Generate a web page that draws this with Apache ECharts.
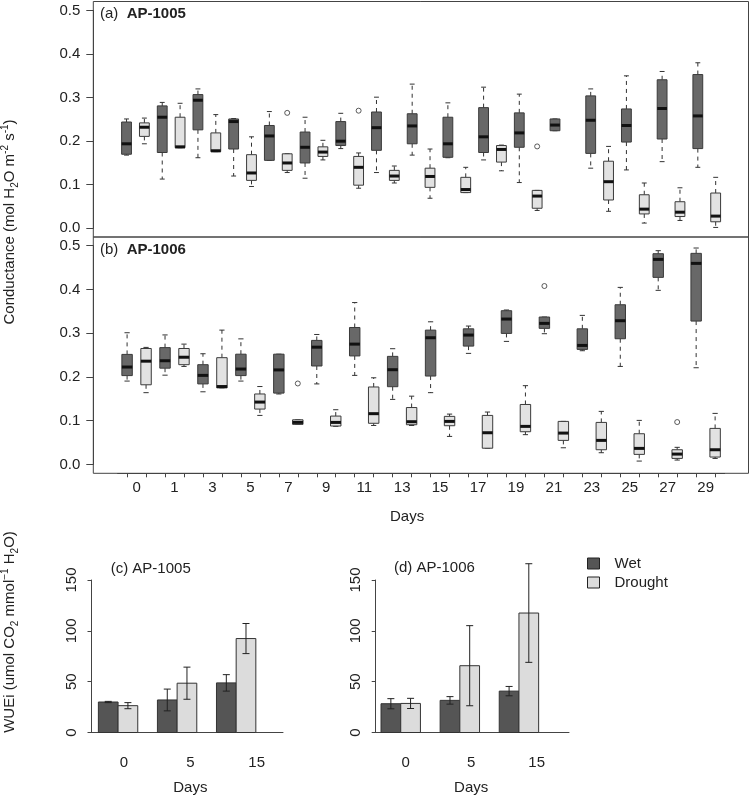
<!DOCTYPE html>
<html><head><meta charset="utf-8">
<script src="https://cdn.jsdelivr.net/npm/echarts@6/dist/echarts.min.js"></script>
<style>html,body{margin:0;padding:0;background:#fff}#c{width:750px;height:798px}</style>
</head><body><div id="c"></div>
<script>
const FONT = '"Liberation Sans", Arial, Helvetica, sans-serif';
const TXT = '#222';

// ---- Panel (a): AP-1005 conductance, 17 sampling pairs (wet, drought); [min, q1, median, q3, max]
const daysA = ['0','1','3','5','7','9','11','13','15','17','19','21','22','23','25','27','29'];
const aWet = [
  [0.168,0.170,0.194,0.244,0.251],[0.113,0.174,0.255,0.281,0.289],[0.162,0.226,0.294,0.307,0.320],
  [0.120,0.182,0.245,0.251,0.252],[0.156,0.156,0.212,0.236,0.268],[0.115,0.150,0.186,0.221,0.255],
  [0.183,0.190,0.200,0.245,0.264],[0.128,0.179,0.231,0.267,0.301],[0.168,0.194,0.235,0.263,0.331],
  [0.162,0.163,0.194,0.255,0.288],[0.157,0.174,0.210,0.277,0.324],[0.105,0.186,0.219,0.265,0.308],
  [0.224,0.224,0.237,0.251,0.251],[0.138,0.172,0.248,0.304,0.320],[0.134,0.198,0.236,0.274,0.350],
  [0.153,0.205,0.275,0.341,0.360],[0.140,0.183,0.258,0.353,0.380]
];
const aDry = [
  [0.194,0.211,0.232,0.242,0.253],[0.185,0.185,0.187,0.255,0.287],[0.176,0.176,0.178,0.219,0.261],
  [0.096,0.110,0.127,0.169,0.210],[0.128,0.133,0.150,0.171,0.171],[0.157,0.165,0.175,0.187,0.202],
  [0.092,0.099,0.140,0.165,0.173],[0.104,0.110,0.120,0.133,0.143],[0.069,0.094,0.119,0.138,0.182],
  [0.082,0.082,0.089,0.117,0.140],[0.132,0.152,0.181,0.190,0.191],[0.041,0.046,0.074,0.087,0.087],
  null,[0.039,0.065,0.107,0.154,0.188],[0.012,0.033,0.044,0.077,0.104],
  [0.018,0.027,0.037,0.061,0.093],[0.002,0.015,0.028,0.081,0.117]
];
const aWetOut = [];
const aDryOut = [[4,0.265],[6,0.270],[11,0.188]]; // [day index, value]

// ---- Panel (b): AP-1006 conductance, 16 days
const daysB = ['0','1','3','5','7','9','11','13','15','17','19','21','23','25','27','29'];
const bWet = [
  [0.1905,0.203,0.2226,0.2515,0.301],[0.204,0.220,0.237,0.267,0.296],[0.166,0.184,0.2035,0.228,0.253],
  [0.1905,0.203,0.218,0.252,0.287],[0.161,0.163,0.216,0.252,0.252],[0.184,0.225,0.268,0.2835,0.297],
  [0.2035,0.248,0.275,0.313,0.370],[0.1486,0.1776,0.2165,0.247,0.2645],[0.164,0.202,0.2896,0.307,0.326],
  [0.2538,0.2705,0.2957,0.310,0.3163],[0.2812,0.2995,0.3323,0.3514,0.353],[0.2988,0.311,0.3224,0.3369,0.3369],
  [0.2599,0.2629,0.272,0.310,0.3407],[0.224,0.2873,0.3285,0.365,0.4047],[0.3979,0.4276,0.4687,0.4817,0.4886],
  [0.221,0.3277,0.4596,0.4825,0.4947]
];
const bDry = [
  [0.164,0.182,0.236,0.265,0.2675],[0.224,0.228,0.245,0.265,0.275],[0.175,0.175,0.178,0.244,0.307],
  [0.112,0.1265,0.1425,0.161,0.178],[0.0915,0.0915,0.096,0.102,0.102],[0.087,0.0877,0.096,0.1105,0.125],
  [0.089,0.094,0.116,0.177,0.198],[0.089,0.0907,0.0976,0.130,0.156],[0.064,0.0884,0.0983,0.1098,0.115],
  [0.037,0.037,0.0724,0.112,0.1197],[0.068,0.0747,0.0869,0.137,0.180],[0.038,0.0549,0.0716,0.0983,0.0983],
  [0.0267,0.0335,0.0549,0.096,0.1212],[0.0076,0.0229,0.0366,0.0701,0.1006],[0.0099,0.0137,0.0236,0.0335,0.039],
  [0.0137,0.0168,0.0335,0.0823,0.1166]
];
const bWetOut = [[11,0.4078]];
const bDryOut = [[4,0.185],[14,0.0968]];

const condTicks = [0, 0.5, 0.1];

// ---- Panels (c), (d): WUEi bars, mean and error
const barDays = ['0','5','15'];
const cWet = [30.0, 32.0, 48.8],  cWetErr = [0.6, 10.7, 8.1];
const cDry = [26.4, 48.5, 92.4],  cDryErr = [3.0, 15.8, 14.8];
const dWet = [28.3, 31.6, 40.7],  dWetErr = [5.0, 3.7, 4.6];
const dDry = [28.6, 65.7, 117.5], dDryErr = [5.0, 39.4, 48.5];

const COL = {wetBox:'#686868', dryBox:'#e2e2e2', wetBar:'#555555', dryBar:'#dcdcdc', line:'#333'};

// ---------- helpers ----------
const slotsA = daysA.flatMap(d => [d + ' wet', d + ' drought']);
const slotsB = daysB.flatMap(d => [d + ' wet', d + ' drought']);
function boxData(arr, side){ return arr.map((b,i)=> b ? [2*i+side, ...b] : null).filter(Boolean); }
function outData(arr, side){ return arr.map(o => [2*o[0]+side, o[1]]); }

function boxRender(fill){
  return function(params, api){
    const x = api.value(0);
    const vals = [1,2,3,4,5].map(k => api.value(k));
    const ys = vals.map(v => api.coord([x, v])[1]);
    const cx = api.coord([x, vals[2]])[0];
    const band = api.size([1,0])[0];
    const bw = band*0.55, sw = bw*0.5;
    const [yMin,yQ1,yMd,yQ3,yMax] = ys;
    const dash = {stroke:'#333', lineWidth:1, lineDash:[4,4]};
    const solid = {stroke:'#333', lineWidth:1};
    const ch = [];
    if (yQ3 - yMax > 0.5) ch.push({type:'line', shape:{x1:cx,y1:yQ3,x2:cx,y2:yMax}, style:dash});
    if (yMin - yQ1 > 0.5) ch.push({type:'line', shape:{x1:cx,y1:yQ1,x2:cx,y2:yMin}, style:dash});
    ch.push({type:'line', shape:{x1:cx-sw/2,y1:yMax,x2:cx+sw/2,y2:yMax}, style:solid});
    ch.push({type:'line', shape:{x1:cx-sw/2,y1:yMin,x2:cx+sw/2,y2:yMin}, style:solid});
    ch.push({type:'rect', shape:{x:cx-bw/2, y:yQ3, width:bw, height:Math.max(yQ1-yQ3,1)}, style:{fill:fill, stroke:'#3a3a3a', lineWidth:1}});
    ch.push({type:'line', shape:{x1:cx-bw/2,y1:yMd,x2:cx+bw/2,y2:yMd}, style:{stroke:'#111', lineWidth:3}});
    return {type:'group', children:ch};
  };
}
function barRender(side, fill){
  return function(params, api){
    const g = api.value(0), v = api.value(1), e = api.value(2);
    const xl = 3*g + 1 + side;
    const p0 = api.coord([xl, 0]), p1 = api.coord([xl+1, v]);
    const cx = (p0[0]+p1[0])/2;
    const yT = api.coord([xl, v+e])[1], yB = api.coord([xl, v-e])[1];
    const s = {stroke:'#222', lineWidth:1};
    return {type:'group', children:[
      {type:'rect', shape:{x:p0[0], y:p1[1], width:p1[0]-p0[0], height:p0[1]-p1[1]}, style:{fill:fill, stroke:'#333', lineWidth:1}},
      {type:'line', shape:{x1:cx,y1:yT,x2:cx,y2:yB}, style:s},
      {type:'line', shape:{x1:cx-3.5,y1:yT,x2:cx+3.5,y2:yT}, style:s},
      {type:'line', shape:{x1:cx-3.5,y1:yB,x2:cx+3.5,y2:yB}, style:s}
    ]};
  };
}
function barData(v, e){ return v.map((x,i)=>[i, x, e[i]]); }

// ---------- layout ----------
const FR = {left:93.3, right:1.5};             // frame of (a),(b)
const IN = {left:117.6, right:25.4};           // data range 0.5 .. N+0.5
const lab = {color:TXT, fontSize:15, fontFamily:FONT};

const grid = [
  {left:FR.left, right:FR.right, top:1.5, height:235.5, show:true, borderColor:'#444', borderWidth:1, backgroundColor:'transparent'}, //0 frame a
  {left:FR.left, right:FR.right, top:237, bottom:798-473.3, show:true, borderColor:'#444', borderWidth:1, backgroundColor:'transparent'}, //1 frame b
  {left:IN.left, right:IN.right, top:10.5, bottom:798-228.3}, //2 data a
  {left:IN.left, right:IN.right, top:245.7, bottom:798-464.4}, //3 data b
  {left:IN.left, right:IN.right, top:237, bottom:798-473.3},   //4 labels b
  {left:91.5, width:191.5, top:580, bottom:798-732.5},          //5 c
  {left:90.8, width:199, top:580, bottom:798-732.5},            //6 c labels
  {left:375.7, width:193.3, top:580, bottom:798-732.5},         //7 d
  {left:372.9, width:196.5, top:580, bottom:798-732.5}          //8 d labels
];

const condY = (gi) => ({gridIndex:gi, type:'value', min:condTicks[0], max:condTicks[1], interval:condTicks[2], offset:IN.left-FR.left,
  axisLine:{show:true, onZero:false, lineStyle:{color:'#444', width:1}}, splitLine:{show:false},
  axisTick:{show:true, length:7, lineStyle:{color:'#444'}},
  axisLabel:Object.assign({margin:13, formatter:v=>v.toFixed(1)}, lab)});
const wueY = (gi) => ({gridIndex:gi, type:'value', min:0, max:150, interval:50,
  axisLine:{show:true, lineStyle:{color:'#444'}}, splitLine:{show:false},
  axisTick:{show:true, length:4, lineStyle:{color:'#444'}},
  axisLabel:Object.assign({margin:12, rotate:90}, lab)});
const wueX = (gi, mn, mx) => ({gridIndex:gi, type:'value', min:mn, max:mx, axisLine:{show:true, onZero:false, lineStyle:{color:'#444'}},
  axisTick:{show:false}, axisLabel:{show:false}, splitLine:{show:false}});
const labX = (gi, data, extra) => Object.assign({gridIndex:gi, type:'category', data:data, axisLine:{show:false, onZero:false}, axisTick:{show:false},
  name:'Days', nameLocation:'middle', nameTextStyle:Object.assign({}, lab), splitLine:{show:false}}, extra);

const xAxis = [
  {gridIndex:0, type:'value', show:false},
  {gridIndex:1, type:'value', show:false},
  {gridIndex:2, type:'category', data:slotsA, show:false},
  {gridIndex:3, type:'category', data:slotsB, offset:473.3-464.4, axisLine:{show:true, onZero:false, lineStyle:{color:'#444'}},
    axisTick:{show:true, alignWithLabel:true, length:4, interval:0, lineStyle:{color:'#444'}}, axisLabel:{show:false}},
  labX(4, daysB, {axisLabel:Object.assign({margin:7, interval:0}, lab), nameGap:36, nameTextStyle:Object.assign({padding:[0,28,0,0]}, lab)}),
  wueX(5, 0.65, 10.38),
  labX(6, barDays, {axisLabel:Object.assign({margin:23}, lab), nameGap:48}),
  wueX(7, 0.73, 10.54),
  labX(8, barDays, {axisLabel:Object.assign({margin:23}, lab), nameGap:48})
];
const yAxis = [
  {gridIndex:0, type:'value', show:false},
  {gridIndex:1, type:'value', show:false},
  condY(2), condY(3),
  {gridIndex:4, type:'value', show:false},
  wueY(5),
  {gridIndex:6, type:'value', show:false},
  wueY(7),
  {gridIndex:8, type:'value', show:false}
];

function boxSeries(name, data, ai, fill){
  return {type:'custom', name:name, xAxisIndex:ai, yAxisIndex:ai, data:data, renderItem:boxRender(fill),
    encode:{x:0, y:[1,2,3,4,5]}, clip:false, silent:true};
}
function outSeries(name, data, ai){
  return {type:'scatter', name:name, xAxisIndex:ai, yAxisIndex:ai, data:data, symbol:'circle', symbolSize:5,
    itemStyle:{color:'#fff', borderColor:'#333', borderWidth:1}, silent:true};
}
function barSeries(name, data, ai, side, fill){
  return {type:'custom', name:name, xAxisIndex:ai, yAxisIndex:ai, data:data, renderItem:barRender(side, fill),
    encode:{x:0, y:1}, clip:false, silent:true};
}

const series = [
  boxSeries('a wet', boxData(aWet,0), 2, COL.wetBox),
  boxSeries('a drought', boxData(aDry,1), 2, COL.dryBox),
  outSeries('a out', outData(aDryOut,1).concat(outData(aWetOut,0)), 2),
  boxSeries('b wet', boxData(bWet,0), 3, COL.wetBox),
  boxSeries('b drought', boxData(bDry,1), 3, COL.dryBox),
  outSeries('b out', outData(bDryOut,1).concat(outData(bWetOut,0)), 3),
  barSeries('Wet', barData(cWet,cWetErr), 5, 0, COL.wetBar),
  barSeries('Drought', barData(cDry,cDryErr), 5, 1, COL.dryBar),
  barSeries('Wet', barData(dWet,dWetErr), 7, 0, COL.wetBar),
  barSeries('Drought', barData(dDry,dDryErr), 7, 1, COL.dryBar)
];

const titleStyle = Object.assign({fontWeight:'normal', rich:{b:{fontWeight:'bold', fontSize:15, fontFamily:FONT, color:TXT}}}, lab);
const title = [
  {text:'(a)  {b|AP-1005}', left:100, top:6, padding:0, textStyle:titleStyle},
  {text:'(b)  {b|AP-1006}', left:100, top:242, padding:0, textStyle:titleStyle},
  {text:'(c) AP-1005', left:110.7, top:561, padding:0, textStyle:titleStyle},
  {text:'(d) AP-1006', left:394, top:560, padding:0, textStyle:titleStyle}
];

const supSub = {
  sup:{fontSize:10, fontFamily:FONT, fill:TXT, verticalAlign:'top', lineHeight:20},
  sub:{fontSize:10, fontFamily:FONT, fill:TXT, verticalAlign:'bottom', lineHeight:20},
  n:{fontSize:15, fontFamily:FONT, fill:TXT, lineHeight:20}
};
const graphic = [
  {type:'text', x:10, y:222, rotation:Math.PI/2, style:{
    text:'{n|Conductance (mol H}{sub|2}{n|O m}{sup|-2}{n| s}{sup|-1}{n|)}', rich:supSub, align:'center', verticalAlign:'middle', fill:TXT}},
  {type:'text', x:10, y:632, rotation:Math.PI/2, style:{
    text:'{n|WUEi (umol CO}{sub|2}{n| mmol}{sup|\u22121}{n| H}{sub|2}{n|O)}', rich:supSub, align:'center', verticalAlign:'middle', fill:TXT}}
];

const legend = {
  orient:'vertical', left:587, top:556, padding:0, itemWidth:12, itemHeight:11, itemGap:4,
  textStyle:Object.assign({padding:[0,0,0,10]}, lab),
  data:[
    {name:'Wet', icon:'rect', itemStyle:{color:COL.wetBar, borderColor:'#222', borderWidth:1}},
    {name:'Drought', icon:'rect', itemStyle:{color:COL.dryBar, borderColor:'#222', borderWidth:1}}
  ],
  selectedMode:false
};

const chart = echarts.init(document.getElementById('c'), null, {renderer:'canvas'});
chart.setOption({
  animation:false, backgroundColor:'#fff',
  textStyle:{fontFamily:FONT, color:TXT},
  title, grid, xAxis, yAxis, series, graphic, legend
});
</script></body></html>
